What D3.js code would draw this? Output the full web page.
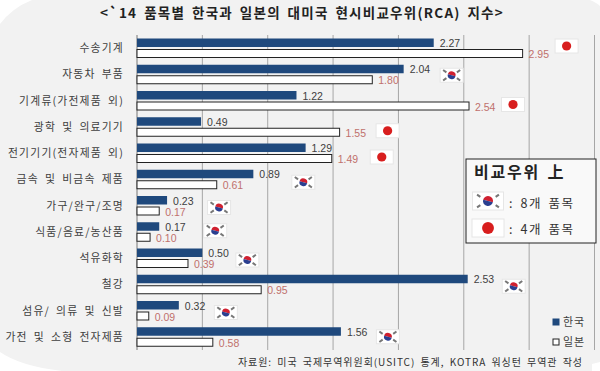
<!DOCTYPE html>
<html>
<head>
<meta charset="utf-8">
<script src="https://cdn.jsdelivr.net/npm/d3@7"></script>
<style>
  html, body { margin: 0; padding: 0; background: #fff; }
  svg { display: block; }
  text { font-family: "Noto Sans CJK KR", "Liberation Sans", sans-serif; }
  .num { font-family: "Liberation Sans", sans-serif; }
</style>
</head>
<body>
<div id="chart"></div>
<script>
// chart data
const categories = ["수송기계", "자동차 부품", "기계류(가전제품 외)", "광학 및 의료기기", "전기기기(전자제품 외)", "금속 및 비금속 제품",
  "가구/완구/조명", "식품/음료/농산품", "석유화학", "철강", "섬유/ 의류 및 신발", "가전 및 소형 전자제품"];
const korea = [2.27, 2.04, 1.22, 0.49, 1.29, 0.89, 0.23, 0.17, 0.50, 2.53, 0.32, 1.56];
const japan = [2.95, 1.80, 2.54, 1.55, 1.49, 0.61, 0.17, 0.10, 0.39, 0.95, 0.09, 0.58];
const xTicks = [0, 0.5, 1, 1.5, 2, 2.5, 3, 3.5];
const seriesNames = ["한국", "일본"];

const width = 600, height = 371;
const svg = d3.select("#chart").append("svg").attr("width", width).attr("height", height);

// grey panel, the corners of the original are cut unevenly
svg.append("path")
  .attr("d", "M32,0 L590,0 Q597,3 600,6 L600,362 L592,364 L592,371 L62,371 Q20,366 0,352 L0,24 Q12,8 32,0 Z")
  .attr("fill", "#f2f2f2");

const x = d3.scaleLinear().domain([0, 3.5]).range([137, 594.5]);
const y = d3.scaleBand().domain(categories).range([35, 350]);

svg.append("text").attr("x", 302).attr("y", 18).attr("text-anchor", "middle")
  .attr("font-size", 13.5).attr("font-weight", 700).attr("fill", "#222")
  .attr("letter-spacing", 1.25).attr("word-spacing", 2.5)
  .text("<`14 품목별 한국과 일본의 대미국 현시비교우위(RCA) 지수>");

// gridlines
svg.append("g").selectAll("line").data(xTicks).enter().append("line")
  .attr("x1", d => x(d)).attr("x2", d => x(d))
  .attr("y1", 35).attr("y2", 350)
  .attr("stroke", d => d === 0 ? "#777" : "#a6a6a6").attr("stroke-width", 1);

// korean bars
svg.append("g").selectAll("rect").data(categories).enter().append("rect")
  .attr("x", x(0)).attr("y", d => y(d) + 3.5)
  .attr("width", (d, i) => x(korea[i]) - x(0)).attr("height", 8.5)
  .attr("fill", "#1f497d");

// japanese bars
svg.append("g").selectAll("rect").data(categories).enter().append("rect")
  .attr("x", x(0)).attr("y", d => y(d) + 14.5)
  .attr("width", (d, i) => x(japan[i]) - x(0)).attr("height", 8)
  .attr("fill", "#fff").attr("stroke", "#222").attr("stroke-width", 1);

// value labels
svg.append("g").selectAll("text").data(categories).enter().append("text")
  .attr("class", "num")
  .attr("x", (d, i) => x(korea[i]) + 6).attr("y", d => y(d) + 12)
  .attr("font-size", 10.5).attr("fill", "#404040")
  .text((d, i) => korea[i].toFixed(2));
svg.append("g").selectAll("text").data(categories).enter().append("text")
  .attr("class", "num")
  .attr("x", (d, i) => x(japan[i]) + 6).attr("y", d => y(d) + 23)
  .attr("font-size", 10.5).attr("fill", "#c0706c")
  .text((d, i) => japan[i].toFixed(2));

// category labels
svg.append("g").selectAll("text").data(categories).enter().append("text")
  .attr("x", 124).attr("y", d => y(d) + 17).attr("text-anchor", "end")
  .attr("font-size", 10.8).attr("fill", "#404040")
  .attr("letter-spacing", 1.2).attr("word-spacing", 2.5)
  .text(d => d);

// flags
function drawFlag(g, isKorea, w, h) {
  g.append("rect").attr("x", -w / 2).attr("y", -h / 2).attr("width", w).attr("height", h)
    .attr("fill", "#fff").attr("stroke", "#e6e6e6");
  if (!isKorea) {
    g.append("circle").attr("r", h * 0.33).attr("fill", "#d81e1e");
    return;
  }
  const r = h * 0.28;
  g.append("path").attr("d", `M${-r},0A${r},${r} 0 0 1 ${r},0Z`).attr("fill", "#d02030").attr("transform", "rotate(15)");
  g.append("path").attr("d", `M${-r},0A${r},${r} 0 0 0 ${r},0Z`).attr("fill", "#2a3f90").attr("transform", "rotate(15)");
  [[-1, -1], [1, -1], [-1, 1], [1, 1]].forEach(c => {
    g.append("rect").attr("x", -2).attr("y", -1).attr("width", 4).attr("height", 2).attr("fill", "#777")
      .attr("transform", `translate(${c[0] * w * 0.3},${c[1] * h * 0.29}) rotate(${c[0] * c[1] * 35})`);
  });
}
// each flag was pasted by hand in the original, hence the uneven offsets
const flagDx = [44, 48, 44, 48, 50, 50, 52, 56, 45, 46, 47, 47];
const flagDy = [11, 14, 17, 17, 17, 16, 15, 12, 15, 15, 15, 13];
categories.forEach((d, i) => {
  const g = svg.append("g")
    .attr("transform", `translate(${x(Math.max(korea[i], japan[i])) + flagDx[i]},${y(d) + flagDy[i]})`);
  drawFlag(g, korea[i] > japan[i], 23, 14);
});

// comparison box
svg.append("rect").attr("x", 466).attr("y", 159).attr("width", 130).attr("height", 84)
  .attr("fill", "#f9f9f9").attr("stroke", "#222").attr("stroke-width", 1);
svg.append("text").attr("x", 474).attr("y", 178).attr("font-size", 16).attr("font-weight", 700)
  .attr("letter-spacing", 1.8).attr("word-spacing", 2).attr("fill", "#222").text("비교우위 上");
drawFlag(svg.append("g").attr("transform", "translate(488,201)"), true, 31, 18);
drawFlag(svg.append("g").attr("transform", "translate(488,228)"), false, 32, 18);
svg.append("text").attr("x", 509).attr("y", 208).attr("font-size", 12.5).attr("letter-spacing", 1.6).attr("word-spacing", 2)
  .attr("fill", "#333").text(": 8개 품목");
svg.append("text").attr("x", 509).attr("y", 234).attr("font-size", 12.5).attr("letter-spacing", 1.6).attr("word-spacing", 2)
  .attr("fill", "#333").text(": 4개 품목");

// legend
const legend = svg.append("g");
seriesNames.forEach((name, i) => {
  const ly = 322 + i * 20;
  legend.append("rect").attr("x", 553).attr("y", ly - 3).attr("width", 6).attr("height", 6)
    .attr("fill", i === 0 ? "#1f497d" : "#fff").attr("stroke", i === 0 ? "#1f497d" : "#222");
  legend.append("text").attr("x", 563).attr("y", ly + 4).attr("font-size", 11).attr("letter-spacing", 1)
    .attr("fill", "#404040").text(name);
});

// source
svg.append("text").attr("x", 583).attr("y", 366).attr("text-anchor", "end")
  .attr("font-size", 10).attr("fill", "#333")
  .attr("letter-spacing", 0.95).attr("word-spacing", 2)
  .text("자료원: 미국 국제무역위원회(USITC) 통계, KOTRA 워싱턴 무역관 작성");
</script>
</body>
</html>
